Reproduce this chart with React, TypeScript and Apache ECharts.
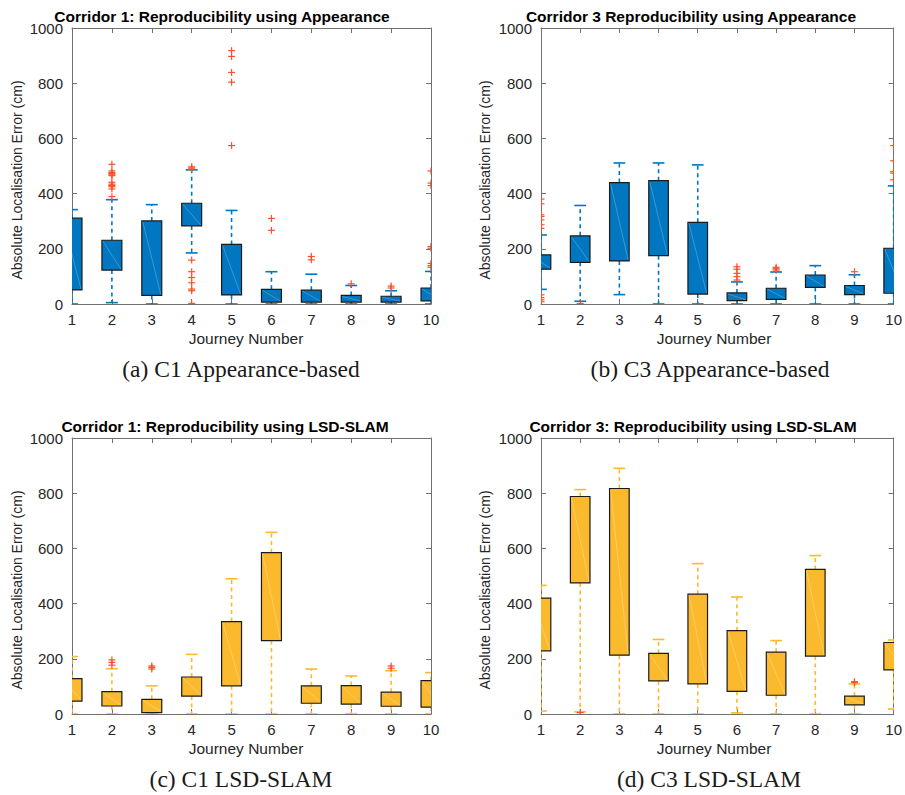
import React, { useEffect, useRef } from "react";
import * as echarts from "echarts";

const journeys = [1, 2, 3, 4, 5, 6, 7, 8, 9, 10];
const yTicks = [0, 200, 400, 600, 800, 1000];

// (a) Corridor 1 appearance
const c1AppQ1 = [51, 123, 31, 283, 33, 7, 7, 7, 7, 11];
const c1AppQ3 = [311, 231, 301, 365, 216, 53, 50, 31, 28, 58];
const c1AppLow = [0, 5, 0, 185, 0, 0, 0, 0, 0, 0];
const c1AppHigh = [342, 378, 360, 486, 339, 117, 108, 67, 48, 118];
const c1AppOutliers = [
  [2, 506], [2, 482], [2, 476], [2, 473], [2, 468], [2, 465], [2, 441], [2, 434], [2, 429], [2, 425], [2, 417], [2, 389],
  [4, 497], [4, 493], [4, 489], [4, 159], [4, 117], [4, 96], [4, 77], [4, 54], [4, 48], [4, 2],
  [5, 918], [5, 897], [5, 839], [5, 804], [5, 574],
  [6, 310], [6, 267], [7, 172], [7, 160], [8, 73], [9, 65], [9, 58],
  [10, 482], [10, 438], [10, 429], [10, 208], [10, 202], [10, 147], [10, 139], [10, 133],
];

// (b) Corridor 3 appearance
const c3AppQ1 = [126, 151, 156, 175, 36, 12, 17, 60, 34, 39];
const c3AppQ3 = [178, 247, 440, 447, 296, 40, 57, 105, 67, 202];
const c3AppLow = [53, 10, 34, 0, 0, 0, 0, 0, 0, 0];
const c3AppHigh = [250, 357, 511, 511, 504, 80, 116, 139, 106, 428];
const c3AppOutliers = [
  [1, 380], [1, 363], [1, 323], [1, 317], [1, 305], [1, 287], [1, 274], [1, 33], [1, 23], [1, 15], [1, 8],
  [2, 2], [6, 135], [6, 126], [6, 111], [6, 99], [6, 87], [7, 133], [7, 128], [7, 123], [9, 117],
  [10, 574], [10, 519], [10, 480], [10, 474], [10, 450],
];

// (c) Corridor 1 LSD-SLAM
const c1LsdQ1 = [47, 29, 5, 65, 102, 266, 39, 36, 28, 25];
const c1LsdQ3 = [128, 81, 53, 134, 335, 585, 102, 103, 79, 121];
const c1LsdLow = [0, 0, 0, 0, 0, 0, 0, 0, 0, 0];
const c1LsdHigh = [208, 164, 102, 216, 490, 658, 163, 138, 157, 150];
const c1LsdOutliers = [[2, 196], [2, 187], [2, 177], [3, 174], [3, 169], [3, 163], [9, 174], [9, 166]];

// (d) Corridor 3 LSD-SLAM
const c3LsdQ1 = [229, 475, 213, 120, 109, 82, 68, 210, 33, 160];
const c3LsdQ3 = [420, 788, 817, 220, 434, 302, 224, 524, 65, 259];
const c3LsdLow = [11, 8, 0, 0, 0, 4, 0, 0, 0, 18];
const c3LsdHigh = [466, 813, 890, 270, 545, 424, 266, 574, 109, 268];
const c3LsdOutliers = [[2, 5], [9, 117], [9, 114]];

const BLUE = "#0077C0";
const ORANGE = "#FBB92E";
const OUT = "#FF5028";
const AXIS = "#707070";
const TXT = "#262626";
const SANS = "Liberation Sans, Arial, sans-serif";
const SERIF = "Liberation Serif, Times New Roman, serif";

const panels = [
  { title: "Corridor 1: Reproducibility using Appearance", caption: "(a) C1 Appearance-based", q1: c1AppQ1, q3: c1AppQ3, lo: c1AppLow, hi: c1AppHigh, out: c1AppOutliers, color: BLUE, diag: "rgba(160,210,240,0.6)", left: 72, top: 28, width: 359, titleX: 222, nameX: 17, xNameX: 246, capX: 241 },
  { title: "Corridor 3 Reproducibility using Appearance", caption: "(b) C3 Appearance-based", q1: c3AppQ1, q3: c3AppQ3, lo: c3AppLow, hi: c3AppHigh, out: c3AppOutliers, color: BLUE, diag: "rgba(160,210,240,0.6)", left: 541, top: 28, width: 358, titleX: 691, nameX: 485, xNameX: 714, capX: 710 },
  { title: "Corridor 1: Reproducibility using LSD-SLAM", caption: "(c) C1 LSD-SLAM", q1: c1LsdQ1, q3: c1LsdQ3, lo: c1LsdLow, hi: c1LsdHigh, out: c1LsdOutliers, color: ORANGE, diag: "rgba(255,230,170,0.7)", left: 72, top: 438, width: 359, titleX: 225, nameX: 17, xNameX: 246, capX: 241 },
  { title: "Corridor 3: Reproducibility using LSD-SLAM", caption: "(d) C3 LSD-SLAM", q1: c3LsdQ1, q3: c3LsdQ3, lo: c3LsdLow, hi: c3LsdHigh, out: c3LsdOutliers, color: ORANGE, diag: "rgba(255,230,170,0.7)", left: 541, top: 438, width: 358, titleX: 693, nameX: 485, xNameX: 714, capX: 709 },
];

const H = 276;

function buildOption() {
  const grid: any[] = [];
  const xAxis: any[] = [];
  const yAxis: any[] = [];
  const series: any[] = [];
  const graphic: any[] = [];

  panels.forEach((p, i) => {
    grid.push({ left: p.left, top: p.top, width: p.width, height: H, show: false });
    const baseX = {
      type: "value", min: 1, max: 10, interval: 1, gridIndex: i,
      axisLine: { show: true, onZero: false, lineStyle: { color: AXIS, width: 1 } },
      axisTick: { show: true, inside: true, length: 5, lineStyle: { color: AXIS } },
      splitLine: { show: false },
    };
    xAxis.push({
      ...baseX, position: "bottom",
      axisLabel: { show: true, color: TXT, fontSize: 15, fontFamily: SANS, margin: 8, formatter: (v: number) => String(v) },
    });
    xAxis.push({ ...baseX, position: "top", axisLabel: { show: false } });
    const baseY = {
      type: "value", min: 0, max: 1000, interval: 200, gridIndex: i,
      axisLine: { show: true, onZero: false, lineStyle: { color: AXIS, width: 1 } },
      axisTick: { show: true, inside: true, length: 5, lineStyle: { color: AXIS } },
      splitLine: { show: false },
    };
    yAxis.push({
      ...baseY, position: "left",
      axisLabel: { show: true, color: TXT, fontSize: 15, fontFamily: SANS, margin: 9, formatter: (v: number) => (yTicks.includes(v) ? String(v) : "") },
    });
    yAxis.push({ ...baseY, position: "right", axisLabel: { show: false } });

    const boxData = journeys.map((j, k) => [j, p.q1[k], p.q3[k], p.lo[k], p.hi[k]]);
    const color = p.color;
    const diag = p.diag;
    series.push({
      type: "custom",
      xAxisIndex: 2 * i,
      yAxisIndex: 2 * i,
      clip: true,
      data: boxData,
      renderItem: (params: any, api: any) => {
        const x = api.value(0);
        const q1 = api.value(1);
        const q3 = api.value(2);
        const lo = api.value(3);
        const hi = api.value(4);
        const tl = api.coord([x - 0.25, q3]);
        const br = api.coord([x + 0.25, q1]);
        const pHi = api.coord([x, hi]);
        const pLo = api.coord([x, lo]);
        const cl = api.coord([x - 0.15, 0])[0];
        const cr = api.coord([x + 0.15, 0])[0];
        const cx = pHi[0];
        const dash = { stroke: color, lineWidth: 1.6, lineDash: [4, 3.5] };
        const solid = { stroke: color, lineWidth: 1.6 };
        return {
          type: "group",
          children: [
            { type: "line", shape: { x1: cx, y1: tl[1], x2: cx, y2: pHi[1] }, style: dash },
            { type: "line", shape: { x1: cx, y1: br[1], x2: cx, y2: pLo[1] }, style: dash },
            { type: "line", shape: { x1: cl, y1: pHi[1], x2: cr, y2: pHi[1] }, style: solid },
            { type: "line", shape: { x1: cl, y1: pLo[1], x2: cr, y2: pLo[1] }, style: solid },
            { type: "rect", shape: { x: tl[0], y: tl[1], width: br[0] - tl[0], height: br[1] - tl[1] }, style: { fill: color, stroke: "#1a1a1a", lineWidth: 1.2 } },
            { type: "line", shape: { x1: tl[0] + 1, y1: tl[1] + 1, x2: br[0] - 1, y2: br[1] - 1 }, style: { stroke: diag, lineWidth: 0.6 } },
          ],
        };
      },
    });
    series.push({
      type: "custom",
      xAxisIndex: 2 * i,
      yAxisIndex: 2 * i,
      clip: true,
      data: p.out,
      renderItem: (params: any, api: any) => {
        const pt = api.coord([api.value(0), api.value(1)]);
        const s = 3.5;
        return {
          type: "group",
          children: [
            { type: "line", shape: { x1: pt[0] - s, y1: pt[1], x2: pt[0] + s, y2: pt[1] }, style: { stroke: OUT, lineWidth: 1.2 } },
            { type: "line", shape: { x1: pt[0], y1: pt[1] - s, x2: pt[0], y2: pt[1] + s }, style: { stroke: OUT, lineWidth: 1.2 } },
          ],
        };
      },
    });

    graphic.push({
      type: "text", x: p.titleX, y: p.top - 12,
      style: { text: p.title, fontFamily: SANS, fontWeight: "bold", fontSize: 15.5, fill: "#000", textAlign: "center", textVerticalAlign: "middle" },
    });
    graphic.push({
      type: "text", x: p.nameX, y: p.top + 152, rotation: Math.PI / 2,
      style: { text: "Absolute Localisation Error (cm)", fontFamily: SANS, fontSize: 14, fill: TXT, textAlign: "center", textVerticalAlign: "middle" },
    });
    graphic.push({
      type: "text", x: p.xNameX, y: p.top + 310,
      style: { text: "Journey Number", fontFamily: SANS, fontSize: 15.5, fill: TXT, textAlign: "center", textVerticalAlign: "middle" },
    });
    graphic.push({
      type: "text", x: p.capX, y: p.top + 341,
      style: { text: p.caption, fontFamily: SERIF, fontSize: 23.5, fill: "#1a1a1a", textAlign: "center", textVerticalAlign: "middle" },
    });
  });

  return { animation: false, backgroundColor: "#fff", grid, xAxis, yAxis, series, graphic };
}

export default function App() {
  const ref = useRef<HTMLDivElement>(null);
  useEffect(() => {
    if (!ref.current) return;
    const chart = echarts.init(ref.current, undefined, { renderer: "svg" });
    chart.setOption(buildOption() as any);
    return () => chart.dispose();
  }, []);
  return (
    <div
      ref={ref}
      style={{ position: "fixed", left: 0, top: 0, width: 905, height: 795, background: "#fff" }}
    />
  );
}
